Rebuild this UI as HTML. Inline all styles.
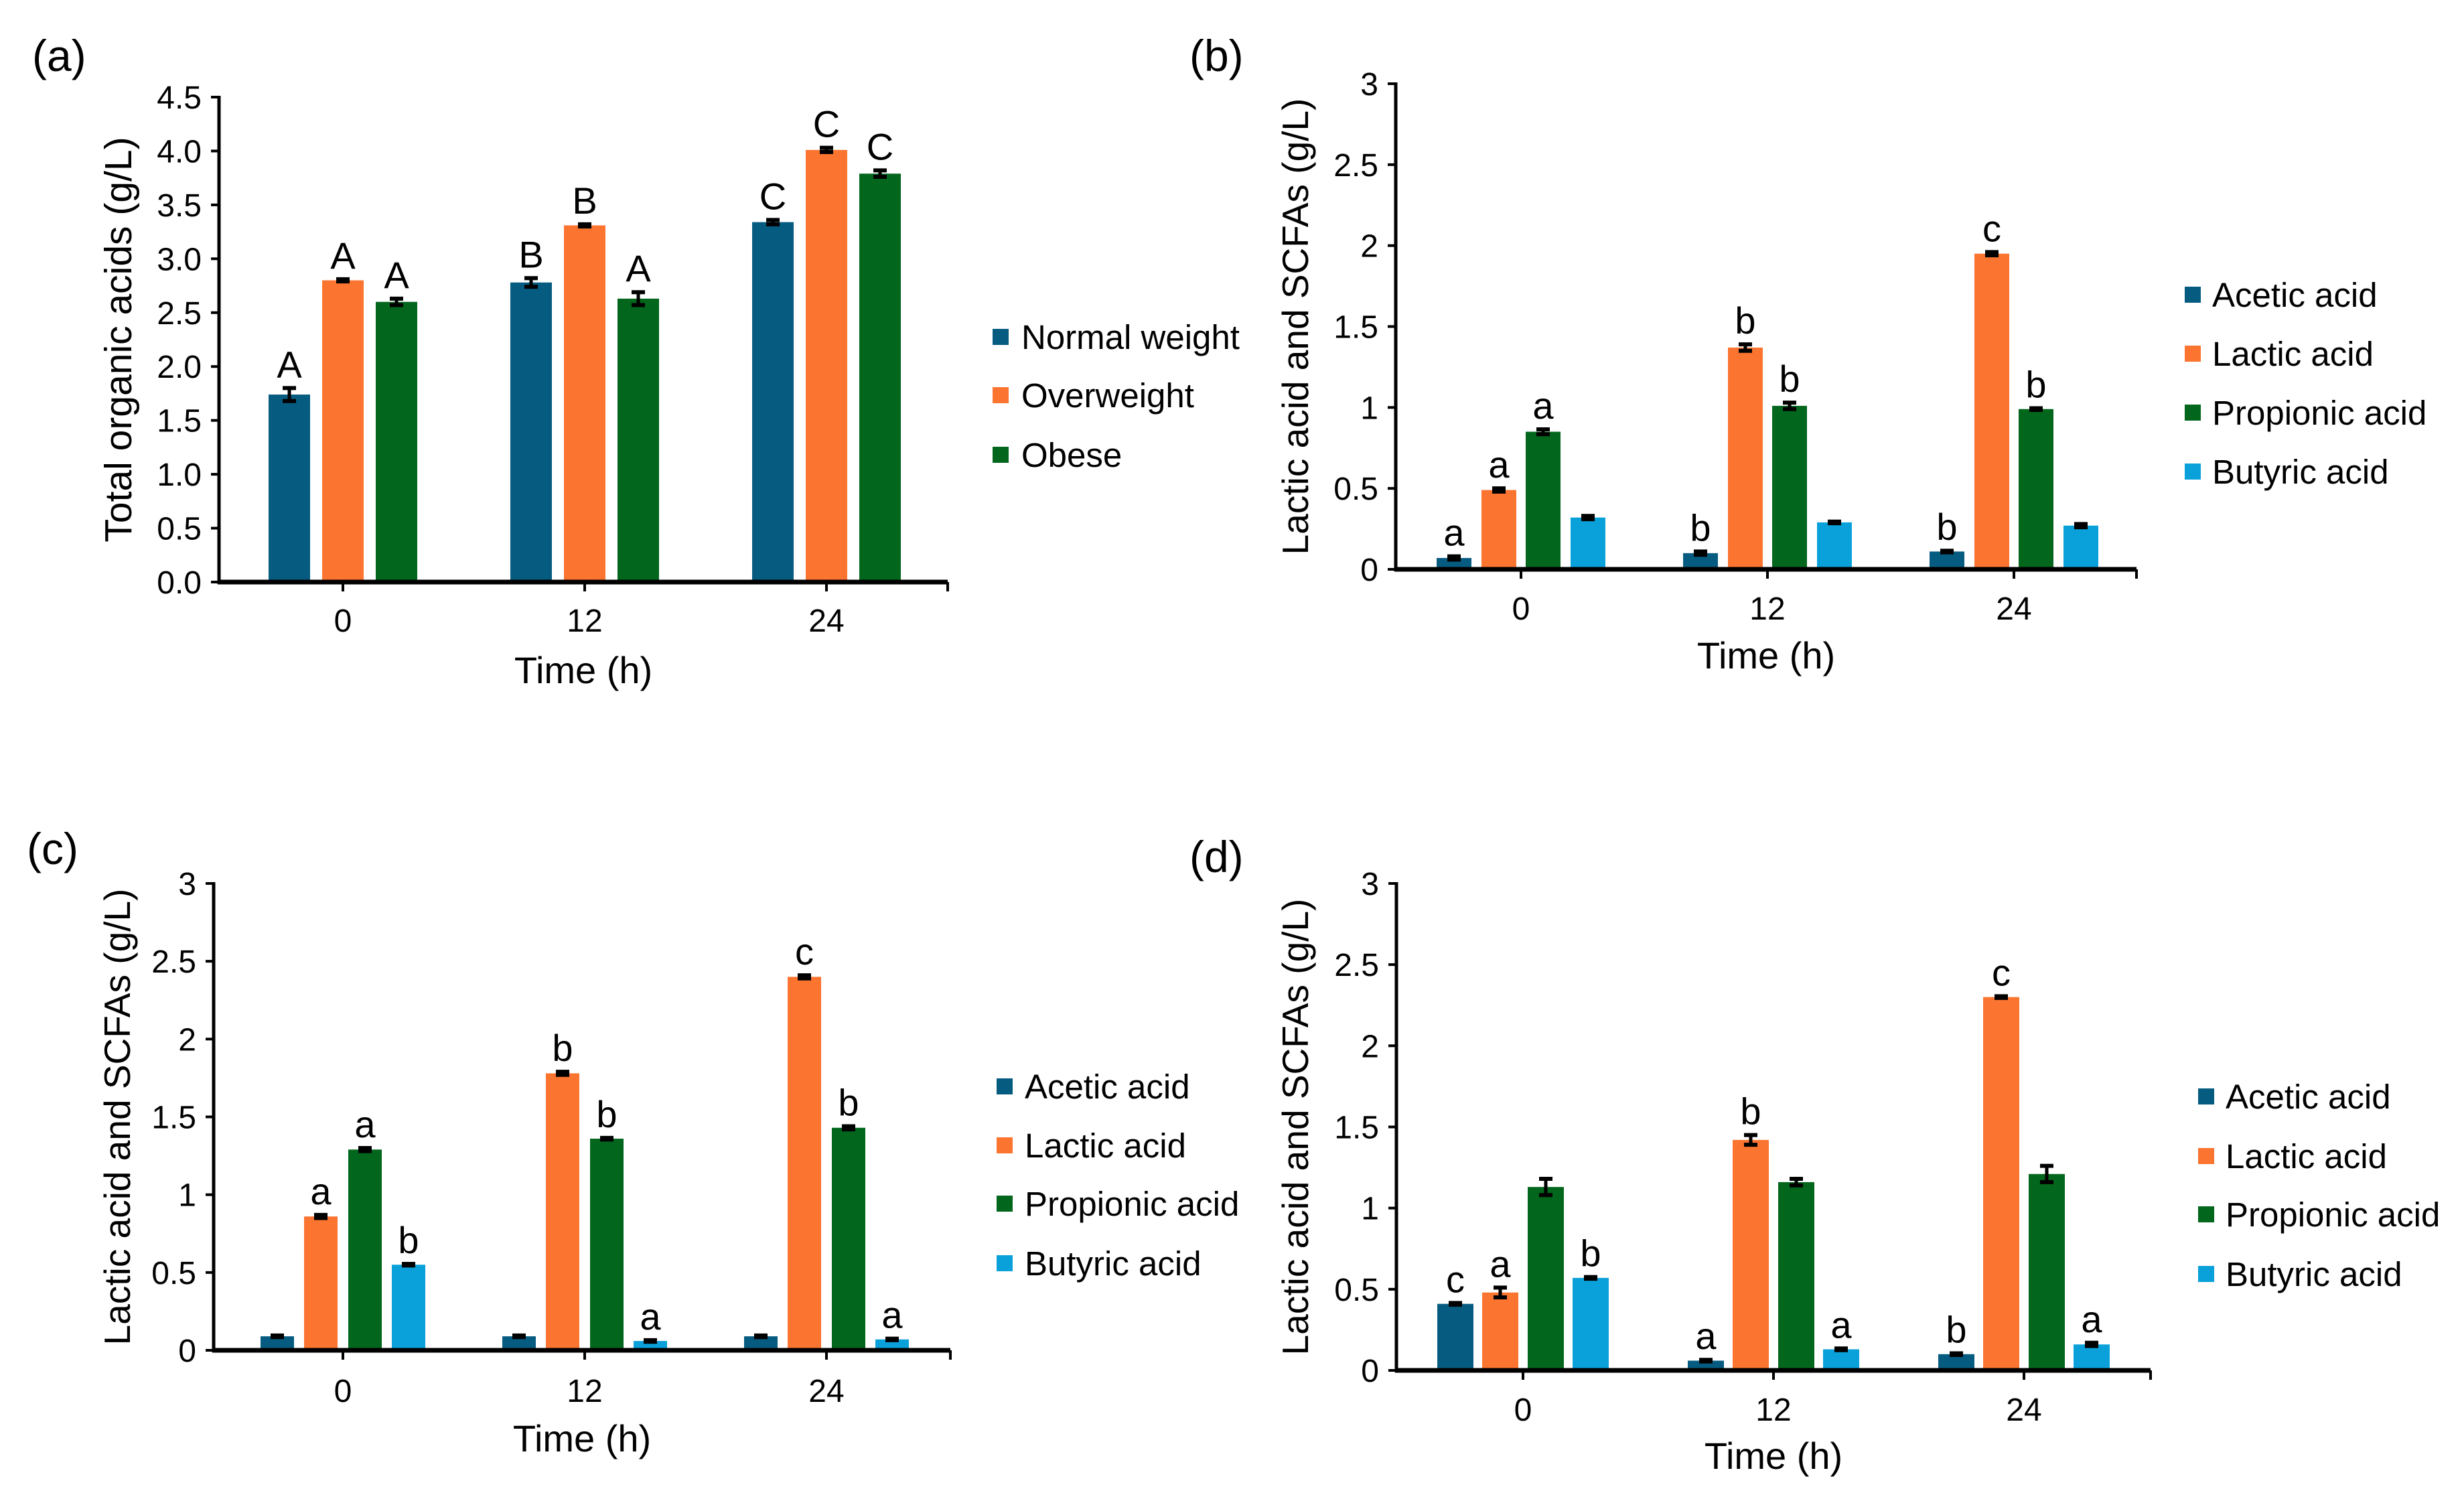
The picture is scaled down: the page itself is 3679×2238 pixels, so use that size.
<!DOCTYPE html>
<html><head><meta charset="utf-8"><style>
html,body{margin:0;padding:0;background:#fff;}
svg{display:block;font-family:"Liberation Sans",Arial,sans-serif;}
</style></head><body>
<svg id="fig" width="3679" height="2238" viewBox="0 0 3679 2238" xmlns="http://www.w3.org/2000/svg">
<rect width="3679" height="2238" fill="#fff"/>
</svg>
<script>
// ---- data ----
const timeCats = ["0","12","24"];
const aNormal = [1.74, 2.78, 3.34];
const aOver = [2.80, 3.31, 4.01];
const aObese = [2.60, 2.63, 3.79];
const aNormalErr = [0.06, 0.04, 0.02];
const aOverErr = [0.01, 0.01, 0.02];
const aObeseErr = [0.03, 0.06, 0.03];
const aNormalLet = ["A","B","C"];
const aOverLet = ["A","B","C"];
const aObeseLet = ["A","A","C"];
const aTicks = ["0.0","0.5","1.0","1.5","2.0","2.5","3.0","3.5","4.0","4.5"];

const bAcetic = [0.07, 0.10, 0.11];
const bLactic = [0.49, 1.37, 1.95];
const bProp = [0.85, 1.01, 0.99];
const bBut = [0.32, 0.29, 0.27];
const bAceticErr = [0.01, 0.01, 0.005];
const bLacticErr = [0.01, 0.02, 0.01];
const bPropErr = [0.015, 0.02, 0.005];
const bButErr = [0.01, 0.005, 0.01];
const bAceticLet = ["a","b","b"];
const bLacticLet = ["a","b","c"];
const bPropLet = ["a","b","b"];
const bButLet = ["","",""];

const cAcetic = [0.09, 0.09, 0.09];
const cLactic = [0.86, 1.78, 2.40];
const cProp = [1.29, 1.36, 1.43];
const cBut = [0.55, 0.06, 0.07];
const cAceticErr = [0.005, 0.005, 0.005];
const cLacticErr = [0.01, 0.01, 0.01];
const cPropErr = [0.01, 0.005, 0.01];
const cButErr = [0.005, 0.005, 0.005];
const cAceticLet = ["","",""];
const cLacticLet = ["a","b","c"];
const cPropLet = ["a","b","b"];
const cButLet = ["b","a","a"];

const dAcetic = [0.41, 0.06, 0.10];
const dLactic = [0.48, 1.42, 2.30];
const dProp = [1.13, 1.16, 1.21];
const dBut = [0.57, 0.13, 0.16];
const dAceticErr = [0.005, 0.005, 0.005];
const dLacticErr = [0.03, 0.03, 0.005];
const dPropErr = [0.05, 0.02, 0.05];
const dButErr = [0.005, 0.005, 0.01];
const dAceticLet = ["c","a","b"];
const dLacticLet = ["a","b","c"];
const dPropLet = ["","",""];
const dButLet = ["b","a","a"];

const scfaTicks = ["0","0.5","1","1.5","2","2.5","3"];
const acidNames = ["Acetic acid","Lactic acid","Propionic acid","Butyric acid"];
const groupNames = ["Normal weight","Overweight","Obese"];

const C_BLUE="#065b80", C_OR="#fb7430", C_GR="#02661d", C_CY="#0aa1da";
const NS="http://www.w3.org/2000/svg";
const svg=document.getElementById('fig');
function mk(tag,attrs,parent){const e=document.createElementNS(NS,tag);for(const k in attrs)e.setAttribute(k,attrs[k]);(parent||svg).appendChild(e);return e;}

function chart(o){
  const g=mk('g',{});
  
  
  const yMax=o.yMax;
  const Y=v=>o.y0-(v/yMax)*(o.y0-o.yTop);
  const X=i=>o.xc0+i*o.step;
  const pl=mk('text',{x:o.lx,y:o.ly,'font-size':66,fill:'#000'},g);pl.textContent=o.label;
  
  
  o.ticks.forEach((t,i)=>{
    const v=yMax*i/(o.ticks.length-1);
    const yy=Y(v);
    mk('line',{x1:o.ax-12,x2:o.ax,y1:yy,y2:yy,stroke:'#000','stroke-width':4},g);
    const tx=mk('text',{x:o.ax-26,y:yy+17,'font-size':48,'text-anchor':'end',fill:'#000'},g);tx.textContent=t;
    
    
  });
  o.series.forEach((s,si)=>{
    s.vals.forEach((v,i)=>{
      const cx=X(i)+o.offs[si];
      const r=mk('rect',{x:cx-o.bw/2,y:Y(v),width:o.bw,height:o.y0-Y(v),fill:s.color},g);
      
      
      const e=s.err[i];
      const yt=Y(v+e), yb=Y(v-e);
      mk('line',{x1:cx,x2:cx,y1:yt,y2:yb,stroke:'#000','stroke-width':5},g);
      mk('line',{x1:cx-10,x2:cx+10,y1:yt,y2:yt,stroke:'#000','stroke-width':6},g);
      mk('line',{x1:cx-10,x2:cx+10,y1:yb,y2:yb,stroke:'#000','stroke-width':6},g);
      if(s.lets[i]){
        const lt=mk('text',{x:cx,y:yt-16,'font-size':56,'text-anchor':'middle',fill:'#000'},g);lt.textContent=s.lets[i];
        
        
      }
    });
  });
  mk('line',{x1:o.ax,x2:o.ax,y1:o.yTop-2,y2:o.y0+3,stroke:'#000','stroke-width':5},g);
  mk('line',{x1:o.ax-2,x2:o.xEnd,y1:o.y0,y2:o.y0,stroke:'#000','stroke-width':7},g);
  mk('line',{x1:o.xEnd,x2:o.xEnd,y1:o.y0,y2:o.y0+14,stroke:'#000','stroke-width':4},g);
  timeCats.forEach((c,i)=>{
    mk('line',{x1:X(i),x2:X(i),y1:o.y0,y2:o.y0+14,stroke:'#000','stroke-width':4},g);
    const t=mk('text',{x:X(i),y:o.tickY,'font-size':48,'text-anchor':'middle',fill:'#000'},g);t.textContent=c;
    
    
  });
  const xt=mk('text',{x:(o.ax+o.xEnd)/2,y:o.xtY,'font-size':56,'text-anchor':'middle',fill:'#000'},g);xt.textContent='Time (h)';
  
  
  const yc=(o.y0+o.yTop)/2;
  const yt=mk('text',{x:0,y:0,'font-size':o.ytSize,'text-anchor':'middle',fill:'#000',transform:`translate(${o.ytX},${yc}) rotate(-90)`},g);yt.textContent=o.ytitle;
  
  
  o.series.forEach((s,si)=>{
    const ly=o.legY[si];
    const lg=mk('g',{},g);
    
    
    mk('rect',{x:o.legX,y:ly-13,width:24,height:24,fill:s.color},lg);
    const lt=mk('text',{x:o.legTX,y:ly+17,'font-size':51,fill:'#000'},lg);lt.textContent=s.name;
  });
}

function acids(p,A,B,C,D){return [
 {key:'acetic',name:acidNames[0],color:C_BLUE,vals:A[0],err:A[1],lets:A[2]},
 {key:'lactic',name:acidNames[1],color:C_OR,vals:B[0],err:B[1],lets:B[2]},
 {key:'propionic',name:acidNames[2],color:C_GR,vals:C[0],err:C[1],lets:C[2]},
 {key:'butyric',name:acidNames[3],color:C_CY,vals:D[0],err:D[1],lets:D[2]}];}

chart({name:'panel-a-chart',label:'(a)',lx:48,ly:106,yMax:4.5,y0:869,yTop:145,ax:327,xEnd:1415,xc0:512,step:361,
  bw:62,offs:[-80,0,80],ticks:aTicks,tickY:943,xtY:1020,ytX:196,ytSize:57,ytitle:'Total organic acids (g/L)',
  legX:1482,legTX:1525,legY:[504,591,680],
  series:[{key:'normal-weight',name:groupNames[0],color:C_BLUE,vals:aNormal,err:aNormalErr,lets:aNormalLet},
          {key:'overweight',name:groupNames[1],color:C_OR,vals:aOver,err:aOverErr,lets:aOverLet},
          {key:'obese',name:groupNames[2],color:C_GR,vals:aObese,err:aObeseErr,lets:aObeseLet}]});

chart({name:'panel-b-chart',label:'(b)',lx:1776,ly:106,yMax:3,y0:850,yTop:125,ax:2084,xEnd:3190,xc0:2271,step:368,
  bw:52,offs:[-100,-33,33,100],ticks:scfaTicks,tickY:925,xtY:998,ytX:1953,ytSize:55,ytitle:'Lactic acid and SCFAs (g/L)',
  legX:3262,legTX:3303,legY:[441,529,617,705],
  series:acids('b',[bAcetic,bAceticErr,bAceticLet],[bLactic,bLacticErr,bLacticLet],[bProp,bPropErr,bPropLet],[bBut,bButErr,bButLet])});

chart({name:'panel-c-chart',label:'(c)',lx:40,ly:1290,yMax:3,y0:2016,yTop:1319,ax:319,xEnd:1419,xc0:512,step:361,
  bw:50,offs:[-98,-33,33,98],ticks:scfaTicks,tickY:2093,xtY:2167,ytX:194,ytSize:55,ytitle:'Lactic acid and SCFAs (g/L)',
  legX:1488,legTX:1530,legY:[1623,1711,1798,1887],
  series:acids('c',[cAcetic,cAceticErr,cAceticLet],[cLactic,cLacticErr,cLacticLet],[cProp,cPropErr,cPropLet],[cBut,cButErr,cButLet])});

chart({name:'panel-d-chart',label:'(d)',lx:1776,ly:1302,yMax:3,y0:2046,yTop:1319,ax:2085,xEnd:3211,xc0:2274,step:374,
  bw:54,offs:[-101,-34,34,101],ticks:scfaTicks,tickY:2121,xtY:2193,ytX:1953,ytSize:55,ytitle:'Lactic acid and SCFAs (g/L)',
  legX:3282,legTX:3323,legY:[1638,1727,1814,1903],
  series:acids('d',[dAcetic,dAceticErr,dAceticLet],[dLactic,dLacticErr,dLacticLet],[dProp,dPropErr,dPropLet],[dBut,dButErr,dButLet])});
</script>
</body></html>
